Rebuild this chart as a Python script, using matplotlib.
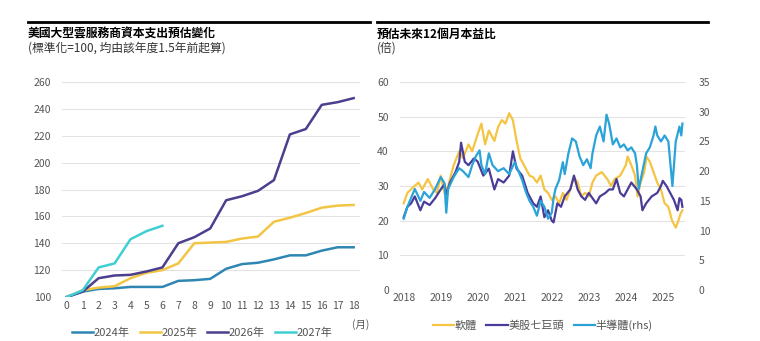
import matplotlib.pyplot as plt
from matplotlib.lines import Line2D

plt.rcParams['font.family'] = ['Noto Sans CJK TC', 'DejaVu Sans']

# left panel: capex estimates (normalised = 100)
months = list(range(19))
capex_2024 = [100, 104, 106, 106.5, 107.5, 107.5, 107.5, 112, 112.5, 113.5, 121, 124.5, 125.5, 128, 131, 131, 134.5, 137, 137]
capex_2025 = [100, 105, 107, 108, 114, 118, 120, 125, 140, 140.5, 141, 143.5, 145, 156, 159, 162.5, 166.5, 168, 168.5]
capex_2026 = [100, 104, 114, 116, 116.5, 119, 122, 140, 144.5, 151, 172, 175, 179, 187, 221, 225, 243, 245, 248]
capex_2027 = [100, 105, 122, 125, 143, 149, 153]
capex_labels = ['2024年', '2025年', '2026年', '2027年']

# right panel: forward 12m P/E
sw_t = [2018.0, 2018.1, 2018.25, 2018.4, 2018.5, 2018.65, 2018.8, 2018.9, 2019.0, 2019.1, 2019.2, 2019.35,
        2019.5, 2019.6, 2019.75, 2019.85, 2020.0, 2020.1, 2020.2, 2020.3, 2020.45, 2020.55, 2020.65, 2020.75,
        2020.85, 2020.95, 2021.05, 2021.15, 2021.25, 2021.4, 2021.5, 2021.6, 2021.7, 2021.8, 2021.9, 2022.0,
        2022.1, 2022.2, 2022.3, 2022.4, 2022.5, 2022.6, 2022.7, 2022.8, 2022.9, 2023.0, 2023.1, 2023.2,
        2023.35, 2023.5, 2023.6, 2023.7, 2023.85, 2024.0, 2024.05, 2024.15, 2024.25, 2024.32, 2024.4,
        2024.5, 2024.56, 2024.65, 2024.75, 2024.85, 2024.95, 2025.05, 2025.15, 2025.25, 2025.35, 2025.42,
        2025.48, 2025.53]
software = [25, 28, 29.6, 31, 29, 32, 29, 28, 33, 28, 30, 36,
            40, 38, 42, 40, 45, 48, 42, 46, 43, 47, 49, 48,
            51, 49, 43, 38, 36, 33, 32.5, 31, 33, 29, 28, 26,
            27, 25, 28, 26, 29, 32.5, 31, 27, 28, 27, 31, 33,
            34, 32, 30, 32, 33, 36, 38.5, 36, 33, 27, 31,
            34, 38.5, 37, 34, 31, 29, 25, 24, 20, 18, 20,
            22, 23]

mag_t = [2018.0, 2018.1, 2018.2, 2018.3, 2018.45, 2018.55, 2018.7, 2018.85, 2019.0, 2019.1, 2019.15, 2019.25,
         2019.4, 2019.5, 2019.55, 2019.65, 2019.75, 2019.9, 2020.0, 2020.15, 2020.3, 2020.45, 2020.55, 2020.7,
         2020.85, 2020.95, 2021.05, 2021.2, 2021.35, 2021.5, 2021.6, 2021.7, 2021.8, 2021.9, 2022.0, 2022.05,
         2022.15, 2022.25, 2022.35, 2022.5, 2022.6, 2022.7, 2022.8, 2022.9, 2023.0, 2023.1, 2023.2, 2023.3,
         2023.45, 2023.55, 2023.65, 2023.75, 2023.85, 2023.95, 2024.05, 2024.15, 2024.3, 2024.4, 2024.45,
         2024.55, 2024.7, 2024.85, 2024.95, 2025.0, 2025.1, 2025.2, 2025.3, 2025.4, 2025.45, 2025.5, 2025.53]
mag7 = [21, 24, 25, 27, 23, 25.5, 24.5, 26.5, 29, 30.5, 27.5, 31,
        34, 37, 42.5, 37, 36, 38, 37, 33, 35, 29, 32, 31,
        33, 40, 35, 33, 28, 25, 24, 27, 21, 23, 20, 19.5,
        25, 24, 27, 29, 33, 29, 27, 26, 28, 26.5, 25, 27,
        28, 29, 29, 32, 28, 27, 29, 31, 29, 27, 23,
        25, 27, 28, 30, 31.5, 30, 28, 26, 23, 26.5, 26, 24]

semi_t = [2018.0, 2018.1, 2018.2, 2018.3, 2018.45, 2018.55, 2018.7, 2018.85, 2019.0, 2019.1, 2019.15, 2019.2,
          2019.35, 2019.5, 2019.6, 2019.75, 2019.85, 2019.95, 2020.05, 2020.1, 2020.2, 2020.3, 2020.4, 2020.55,
          2020.7, 2020.85, 2021.0, 2021.1, 2021.2, 2021.3, 2021.4, 2021.5, 2021.6, 2021.7, 2021.8, 2021.9,
          2022.0, 2022.05, 2022.1, 2022.2, 2022.3, 2022.35, 2022.45, 2022.55, 2022.65, 2022.75, 2022.85, 2022.95,
          2023.05, 2023.1, 2023.2, 2023.3, 2023.4, 2023.48, 2023.55, 2023.65, 2023.75, 2023.85, 2023.95,
          2024.05, 2024.15, 2024.25, 2024.3, 2024.35, 2024.45, 2024.55, 2024.65, 2024.75, 2024.8, 2024.85,
          2024.95, 2025.05, 2025.15, 2025.26, 2025.35, 2025.45, 2025.5, 2025.53]
semis = [12, 14, 15.5, 17, 15, 16.5, 15.5, 17, 19, 18, 13, 17,
         19, 20.5, 20, 19, 21, 22.5, 23.5, 21, 19.5, 23, 21, 20,
         20.5, 19.5, 21.5, 20, 18.5, 16.5, 15, 14, 12.5, 15, 14, 12,
         13, 15.5, 17, 18.5, 21.5, 19.5, 23, 25.5, 25, 22.5, 21, 22,
         20.5, 23, 26, 27.5, 25, 29.5, 28, 24.5, 25.5, 24, 24.5,
         23.5, 24, 23, 21, 17, 20, 23, 24, 26, 27.5, 26,
         25, 26, 25, 17.5, 25, 27.5, 26, 28]
pe_labels = ['軟體', '美股七巨頭', '半導體(rhs)']

c24, c25, c26, c27 = '#2f86b3', '#f3c545', '#4b3f8e', '#3fcfd2'
c_sw, c_mag, c_semi = '#f5c443', '#4a3d99', '#2aa3d8'
grid_c = '#e3e3e3'
tick_c = '#555555'

fig = plt.figure(figsize=(7.6, 3.41), dpi=100)

# header rules and titles
fig.add_artist(Line2D([28 / 760, 370 / 760], [1 - 22 / 341] * 2, color='black', lw=2))
fig.add_artist(Line2D([377 / 760, 708 / 760], [1 - 22 / 341] * 2, color='black', lw=2))
fig.text(28 / 760, 1 - 34 / 341, '美國大型雲服務商資本支出預估變化', fontsize=8.5, fontweight='bold', va='center')
fig.text(28 / 760, 1 - 48 / 341, '(標準化=100, 均由該年度1.5年前起算)', fontsize=8.5, va='center', color='#333333')
fig.text(377 / 760, 1 - 34 / 341, '預估未來12個月本益比', fontsize=8.5, fontweight='bold', va='center')
fig.text(377 / 760, 1 - 48 / 341, '(倍)', fontsize=8.5, va='center', color='#333333')

# left chart
ax = fig.add_axes([62 / 760, 1 - 297 / 341, 298 / 760, 215 / 341])
ax.plot(months, capex_2024, color=c24, lw=1.8, label=capex_labels[0])
ax.plot(months, capex_2025, color=c25, lw=1.8, label=capex_labels[1])
ax.plot(months, capex_2026, color=c26, lw=1.8, label=capex_labels[2])
ax.plot(months[:len(capex_2027)], capex_2027, color=c27, lw=1.8, label=capex_labels[3])
ax.set_xlim(-0.3, 18.4)
ax.set_ylim(100, 260)
ax.set_yticks(range(100, 261, 20))
ax.set_xticks(months)
ax.grid(axis='y', color=grid_c, lw=0.8)
ax.set_axisbelow(True)
for s in ax.spines.values():
    s.set_visible(False)
ax.tick_params(length=0, labelsize=7.5, colors=tick_c, pad=3)
ax.tick_params(axis='y', pad=8)
ax.legend(loc='upper center', bbox_to_anchor=(0.47, -0.095), ncol=4, frameon=False, fontsize=8,
          handlelength=1.9, columnspacing=0.9, handletextpad=0.05, labelcolor=tick_c)
fig.text(352 / 760, 1 - 325 / 341, '(月)', fontsize=7.5, color=tick_c, va='center')

# right chart
ax2 = fig.add_axes([400 / 760, 1 - 290 / 341, 285 / 760, 208 / 341])
ax3 = ax2.twinx()
l1, = ax2.plot(sw_t, software, color=c_sw, lw=1.6, label=pe_labels[0])
l2, = ax2.plot(mag_t, mag7, color=c_mag, lw=1.6, label=pe_labels[1])
l3, = ax3.plot(semi_t, semis, color=c_semi, lw=1.6, label=pe_labels[2])
ax2.set_xlim(2017.9, 2025.6)
ax2.set_ylim(0, 60)
ax3.set_ylim(0, 35)
ax2.set_yticks(range(0, 61, 10))
ax3.set_yticks(range(0, 36, 5))
ax2.set_xticks(range(2018, 2026))
ax2.grid(axis='y', color=grid_c, lw=0.8)
ax2.set_axisbelow(True)
for a in (ax2, ax3):
    for s in a.spines.values():
        s.set_visible(False)
    a.tick_params(length=0, labelsize=7.5, colors=tick_c)
ax2.tick_params(axis='y', pad=8)
ax3.tick_params(axis='y', pad=10)
ax2.tick_params(axis='x', pad=2)
ax2.legend([l1, l2, l3], pe_labels, loc='upper center', bbox_to_anchor=(0.5, -0.095), ncol=3, frameon=False,
           fontsize=8, handlelength=1.9, columnspacing=0.9, handletextpad=0.05, labelcolor=tick_c)

fig.savefig('out.png', dpi=100)
